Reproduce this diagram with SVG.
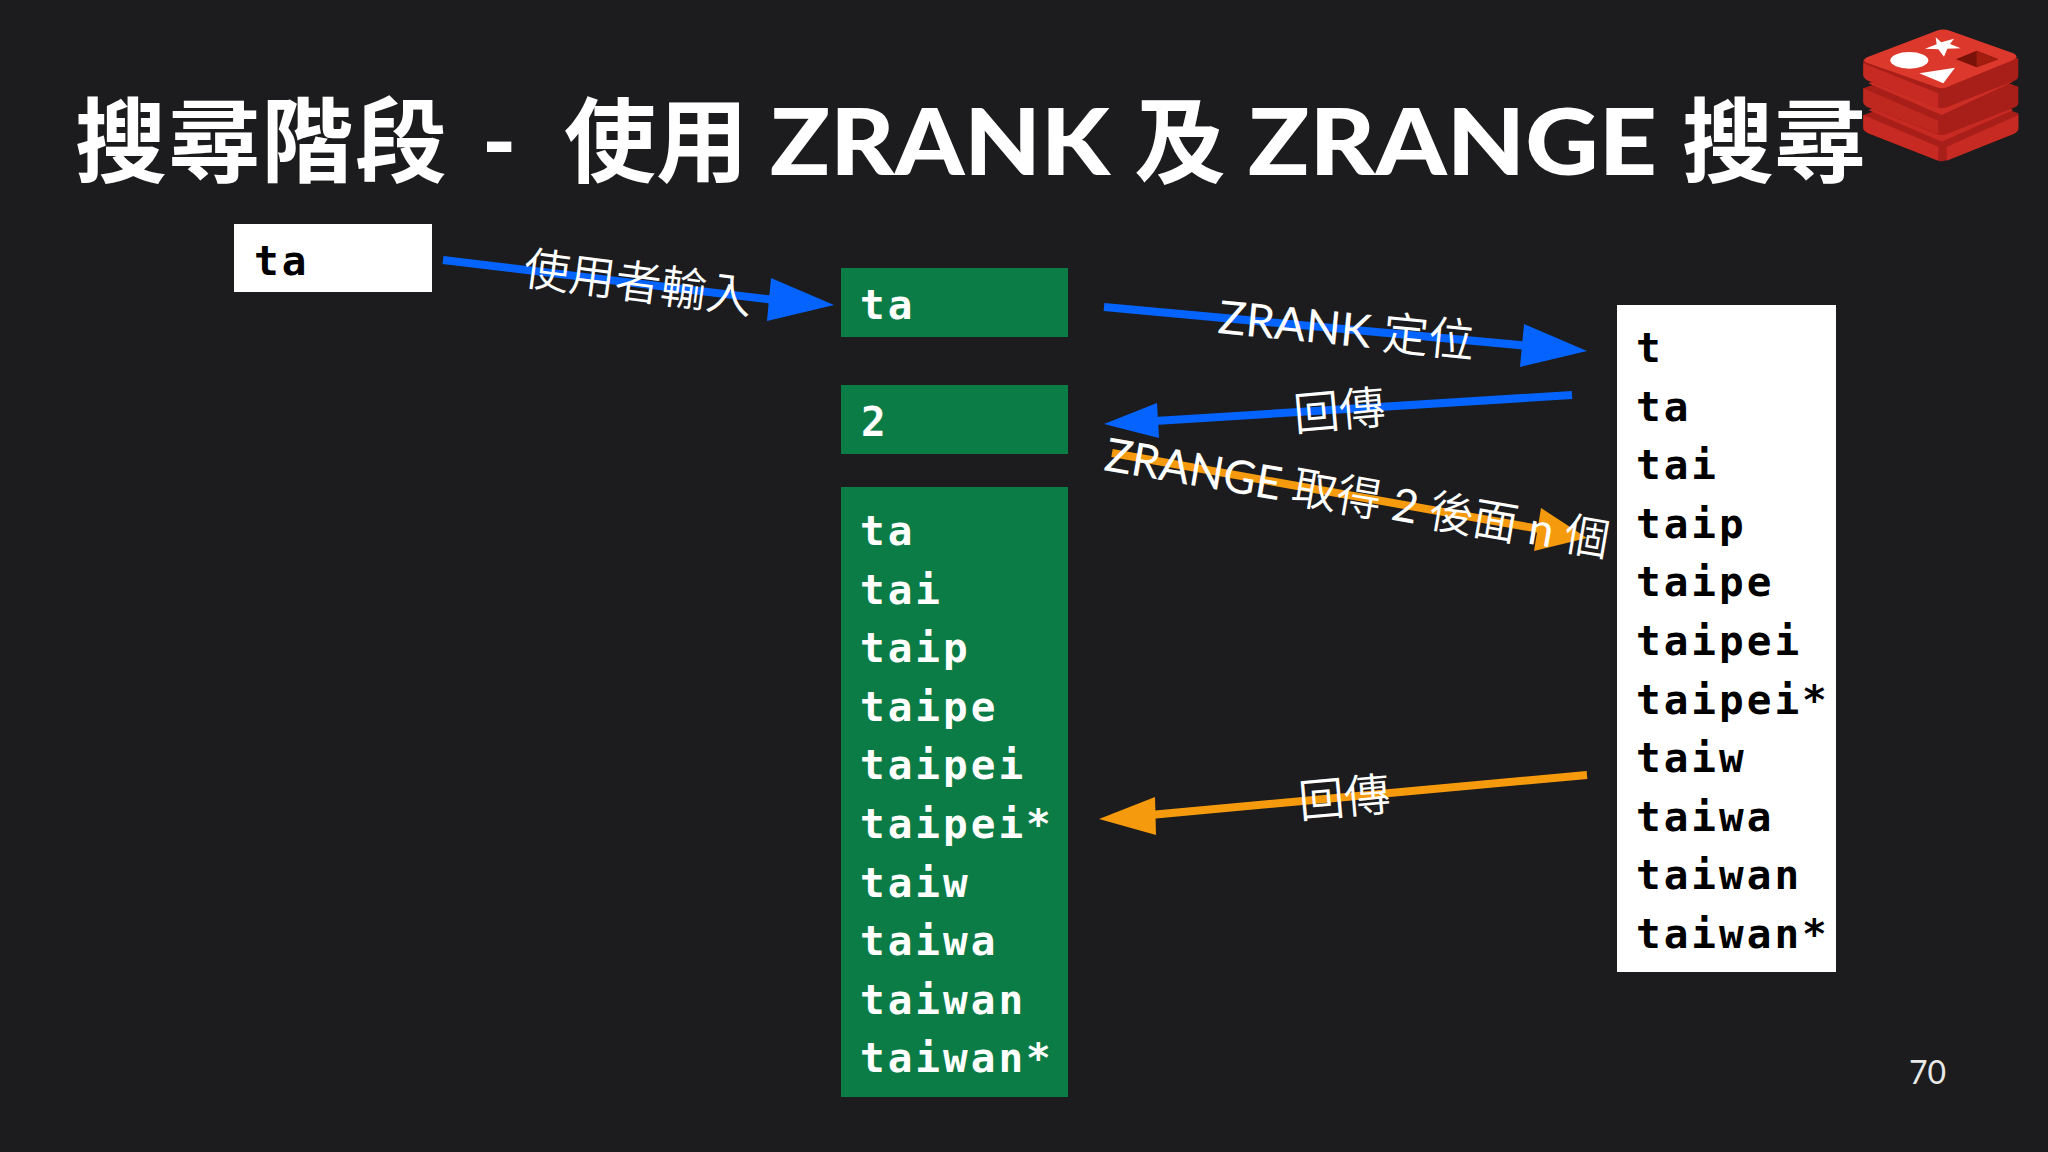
<svg xmlns="http://www.w3.org/2000/svg" width="2048" height="1152" viewBox="0 0 2048 1152">
<style>
.title{font-family:"Lato","Noto Sans CJK TC",sans-serif;font-weight:900;font-size:92px;fill:#fff}
.cjk{font-family:"Noto Sans CJK TC",sans-serif;font-weight:700}
.mono{font-family:"DejaVu Sans Mono",monospace;font-weight:700;font-size:41px;letter-spacing:3px}
.w{fill:#fff}.k{fill:#000}
.lbl{font-family:"Noto Sans CJK TC",sans-serif;font-weight:350;font-size:46px;fill:#fff}
.lat{font-family:"Lato",sans-serif;font-weight:400}
.blue{stroke:#0564ff;fill:none;stroke-width:8}
.org{stroke:#f59a0c;fill:none;stroke-width:8}
.hb{fill:#0564ff}.ho{fill:#f59a0c}
.g{fill:#0c7c46}
</style>
<rect width="2048" height="1152" fill="#1c1c1e"/>
<g id="title">
<text class="title cjk" x="75" y="175" textLength="372" lengthAdjust="spacing">搜尋階段</text>
<text class="title" x="482" y="175">-</text>
<text class="title cjk" x="564" y="175">使用</text>
<text class="title" x="770" y="175" textLength="340" lengthAdjust="spacingAndGlyphs">ZRANK</text>
<text class="title cjk" x="1134" y="175">及</text>
<text class="title" x="1248" y="175" textLength="409" lengthAdjust="spacingAndGlyphs">ZRANGE</text>
<text class="title cjk" x="1682" y="175">搜尋</text>
</g>
<g id="logo" transform="translate(1800,0) scale(.3333)">
<path d="M190 345 L430 262 L655 340 V388 Q655 395 640 402 L440 480 Q425 487 410 480 L205 400 Q190 393 190 385Z" fill="#a81e18"/>
<path d="M205 330 L430 255 L640 330 L425 425Z M190 345 L415 440 V482 L205 400 Q190 393 190 385Z M655 345 L440 440 V482 L640 402 Q655 395 655 385Z" fill="#c62a22"/>
<path d="M190 265 L430 180 L655 260 V310 Q655 318 640 324 L440 402 Q425 408 410 402 L205 322 Q190 315 190 305Z" fill="#a81e18"/>
<path d="M205 250 L430 180 L640 245 L425 345Z" fill="#cc2e25"/>
<path d="M190 265 L415 362 V402 L205 322 Q190 315 190 305Z" fill="#bf281f"/>
<path d="M190 180 V225 Q190 235 205 242 L410 322 Q425 328 440 322 L640 244 Q655 238 655 228 V175Z" fill="#a81e18"/>
<path d="M190 190 V225 Q190 235 205 242 L415 325 V280Z" fill="#c62a22"/>
<path d="M205 170 L410 92 Q430 85 450 92 L640 160 Q660 170 640 180 L440 262 Q425 268 410 262 L205 190 Q180 180 205 170Z" fill="#dc382c"/>
<ellipse cx="328" cy="181" rx="57" ry="25" fill="#fff"/>
<polygon points="358,220 465,203 430,250" fill="#fff"/>
<polygon points="407,112 424,127 462,116 450,132 482,145 442,146 432,170 415,148 375,146 410,133" fill="#fff"/>
<polygon points="468,178 530,152 595,178 530,202" fill="#7a1209"/>
<polygon points="530,152 595,178 530,202" fill="#a31c10"/>
</g>
<g id="input"><rect x="234" y="224" width="198" height="68" class="w"/><text class="mono k" x="254" y="275">ta</text></g>
<g id="query"><rect x="841" y="268" width="227" height="69" class="g"/><text class="mono w" x="860" y="319">ta</text></g>
<g id="rank"><rect x="841" y="385" width="227" height="69" class="g"/><text class="mono w" x="861" y="436">2</text></g>
<g id="result"><rect x="841" y="487" width="227" height="610" class="g"/>
<text class="mono w"><tspan x="860" y="545">ta</tspan><tspan x="860" y="603.6">tai</tspan><tspan x="860" y="662.2">taip</tspan><tspan x="860" y="720.8">taipe</tspan><tspan x="860" y="779.4">taipei</tspan><tspan x="860" y="838">taipei*</tspan><tspan x="860" y="896.6">taiw</tspan><tspan x="860" y="955.2">taiwa</tspan><tspan x="860" y="1013.8">taiwan</tspan><tspan x="860" y="1072.4">taiwan*</tspan></text></g>
<g id="zset"><rect x="1617" y="305" width="219" height="667" class="w"/>
<text class="mono k"><tspan x="1636" y="362">t</tspan><tspan x="1636" y="420.6">ta</tspan><tspan x="1636" y="479.2">tai</tspan><tspan x="1636" y="537.8">taip</tspan><tspan x="1636" y="596.4">taipe</tspan><tspan x="1636" y="655">taipei</tspan><tspan x="1636" y="713.6">taipei*</tspan><tspan x="1636" y="772.2">taiw</tspan><tspan x="1636" y="830.8">taiwa</tspan><tspan x="1636" y="889.4">taiwan</tspan><tspan x="1636" y="948">taiwan*</tspan></text></g>
<g id="connectors">
<path class="blue" d="M443 260L775 300"/><polygon class="hb" points="834,305 771,278 767,321"/>
<path class="blue" d="M1104 307L1530 346"/><polygon class="hb" points="1587,351 1524,324 1520,367"/>
<path class="blue" d="M1572 395L1155 421"/><polygon class="hb" points="1104,424 1157,403 1159,438"/>
<path class="org" d="M1112 453L1545 530"/><polygon class="ho" points="1587,538 1541,508 1534,551"/>
<path class="org" d="M1587 775L1150 815"/><polygon class="ho" points="1099,819 1155,797 1156,835"/>
</g>
<g id="labels">
<text class="lbl" transform="translate(522,284) rotate(7.5)">使用者輸入</text>
<text class="lbl" transform="translate(1217,333) rotate(5.6)"><tspan class="lat">ZRANK </tspan>定位</text>
<text class="lbl" transform="translate(1295,431) rotate(-5)">回傳</text>
<text class="lbl" transform="translate(1103,470) rotate(9.8)" textLength="511" lengthAdjust="spacingAndGlyphs"><tspan class="lat">ZRANGE </tspan>取得<tspan class="lat"> 2 </tspan>後面<tspan class="lat"> n </tspan>個</text>
<text class="lbl" transform="translate(1300,818) rotate(-5)">回傳</text>
</g>
<g id="page"><text x="1909" y="1084" font-family="Lato,sans-serif" font-size="32" fill="#e8e8e8">70</text></g>
</svg>
